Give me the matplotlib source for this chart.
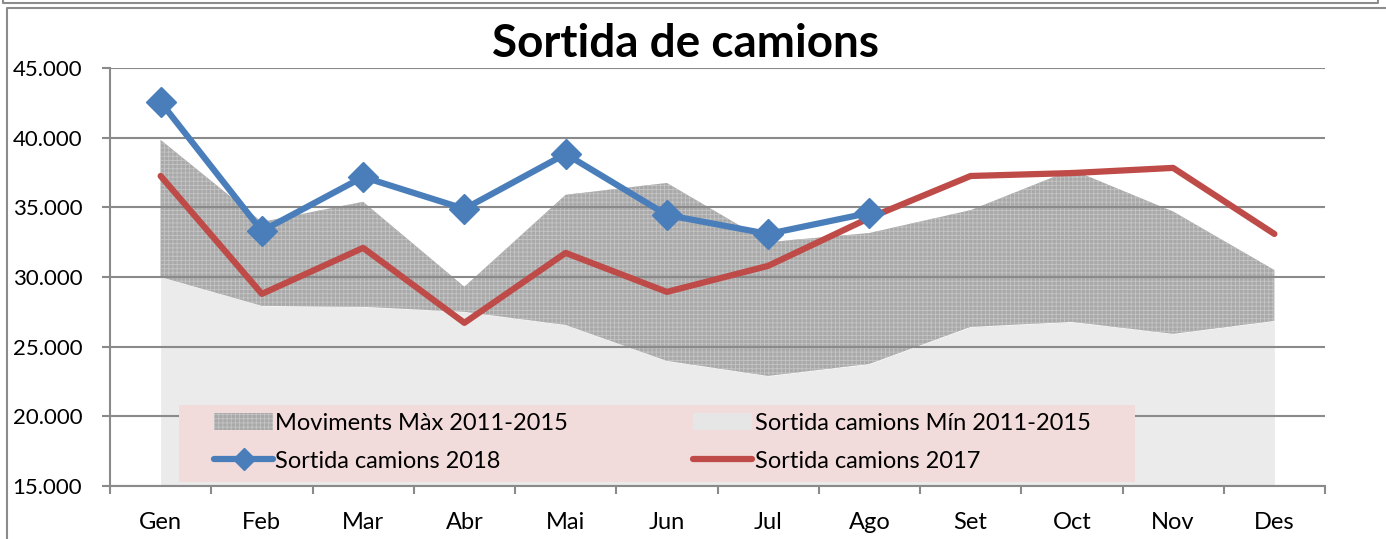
import matplotlib.pyplot as plt
import numpy as np
from matplotlib.patches import Patch, Rectangle
from matplotlib.lines import Line2D

plt.rcParams['font.family'] = ['Lato', 'DejaVu Sans']

months = ['Gen', 'Feb', 'Mar', 'Abr', 'Mai', 'Jun', 'Jul', 'Ago', 'Set', 'Oct', 'Nov', 'Des']
max_1115 = [39840, 33950, 35400, 29300, 35900, 36750, 32500, 33160, 34800, 37700, 34700, 30500]
min_1115 = [30000, 27930, 27860, 27500, 26560, 23980, 22900, 23760, 26420, 26780, 25920, 26850]
camions_2018 = [42560, 33300, 37180, 34890, 38830, 34450, 33090, 34600]
camions_2017 = [37250, 28790, 32090, 26710, 31730, 28930, 30800, 34240, 37250, 37460, 37830, 33090]
yticks = [15000, 20000, 25000, 30000, 35000, 40000, 45000]

blue = '#4a7ebb'
red = '#be4b48'
grid = '#8a8a8a'

fig = plt.figure(figsize=(13.86, 5.39), dpi=100)
ax = fig.add_axes([110/1386, 1-486/539, 1215/1386, 418/539])

x = np.arange(len(months))
ax.fill_between(x, 15000, min_1115, color='#ebebeb', lw=0, zorder=1)
plt.rcParams['hatch.color'] = '#c4c4c4'
plt.rcParams['hatch.linewidth'] = 0.6
ax.fill_between(x, min_1115, max_1115, facecolor='#a9a9a9', hatch='++++', lw=0, zorder=1)

ax.plot(np.arange(len(camions_2017)), camions_2017, color=red, lw=4.5, solid_capstyle='round', zorder=4)
ax.plot(np.arange(len(camions_2018)), camions_2018, color=blue, lw=4.5, marker='D', ms=15, zorder=5)

ax.set_xlim(-0.5, 11.5)
ax.set_ylim(15000, 45000)
ax.set_yticks(yticks)
ax.set_yticklabels([f'{v:,}'.replace(',', '.') for v in yticks], fontsize=16)
ax.yaxis.grid(True, color=grid, lw=1.5, zorder=2)
ax.set_axisbelow(False)
for gl in ax.get_ygridlines():
    gl.set_zorder(2)

ax.set_xticks(np.arange(-0.5, 12, 1))
ax.set_xticklabels([])
ax.set_xticks(x, minor=True)
ax.set_xticklabels(months, minor=True, fontsize=17)
ax.tick_params(axis='x', which='major', length=6, width=1.5, color=grid, direction='out')
ax.tick_params(axis='x', which='minor', length=0, pad=19)
ax.tick_params(axis='y', length=6, width=1.5, color=grid, pad=14)

for s in ['top', 'right']:
    ax.spines[s].set_visible(False)
for s in ['left', 'bottom']:
    ax.spines[s].set_color(grid)
    ax.spines[s].set_linewidth(1.5)

# legend background box
ax.add_patch(Rectangle((69/1215, 4/418), 956/1215, 77/418, transform=ax.transAxes,
                       facecolor='#f2dcdb', lw=0, zorder=6))

handles = [
    Patch(facecolor='#a9a9a9', hatch='++++', lw=0),
    Line2D([], [], color=blue, lw=4.5, marker='D', ms=11, solid_capstyle='round'),
    Patch(facecolor='#e6e6e6', lw=0),
    Line2D([], [], color=red, lw=4.5, solid_capstyle='round'),
]
labels = ['Moviments Màx 2011-2015', 'Sortida camions 2018',
          'Sortida camions Mín 2011-2015', 'Sortida camions 2017']
leg = ax.legend(handles, labels, ncol=2, loc='center left',
                bbox_to_anchor=(104/1215, 44/418),
                borderaxespad=0, borderpad=0, fontsize=17, frameon=False,
                handlelength=2.5, handleheight=0.7, handletextpad=0.1,
                labelspacing=0.72, columnspacing=5.3)
leg.set_zorder(7)

fig.text(686/1386, 1-44/539, 'Sortida de camions', ha='center', va='center',
         fontsize=33, fontweight='bold')

# outer chart frames
fig.add_artist(Line2D([7/1386, 7/1386, 1.0], [0.0, 1-8/539, 1-8/539],
                      transform=fig.transFigure, color='#8c8c8c', lw=1.5))
fig.add_artist(Line2D([3/1386, 3/1386, 1378/1386, 1378/1386], [1.0, 1-3/539, 1-3/539, 1.0],
                      transform=fig.transFigure, color='#8c8c8c', lw=1.5))

fig.savefig('out.png', dpi=100)
